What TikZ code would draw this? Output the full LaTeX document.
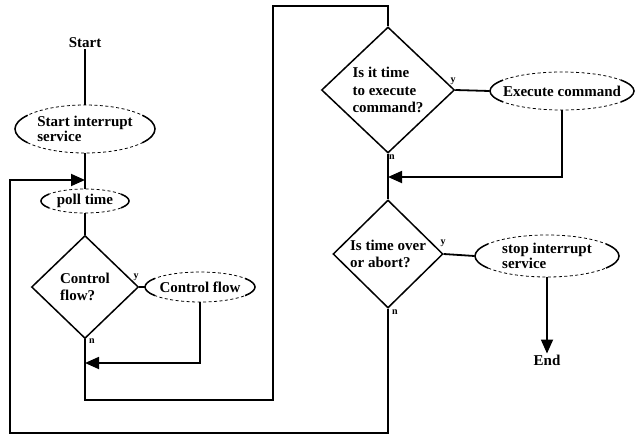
\documentclass[tikz,border=0pt]{standalone}
\usepackage{fontspec}
\setmainfont{Liberation Serif}
\usetikzlibrary{shapes.geometric,arrows.meta}
\begin{document}
\begin{tikzpicture}[x=1pt,y=-1pt,
  txt/.style={font=\fontsize{15}{16}\selectfont\bfseries, inner sep=1pt},
  dec/.style={diamond, draw, line width=1.5pt, inner sep=-8pt, align=left,
    font=\fontsize{15}{17.5}\selectfont\bfseries},
  term/.style={ellipse, draw, dashed, dash pattern=on 3pt off 2.5pt, line width=0.8pt,
    inner xsep=-16pt, inner ysep=-6pt, align=left,
    font=\fontsize{15}{15}\selectfont\bfseries},
  side/.style={line width=1.5pt},
  flow/.style={line width=1.8pt},
  arr/.style={-{Triangle[length=14pt,width=12pt]}},
  yn/.style={font=\fontsize{10}{10}\selectfont\bfseries, inner sep=0pt}]
\newcommand\parens[3]{%
  \draw[side] (#1.center) ++(145:#2pt and #3pt) arc[start angle=145,end angle=215,x radius=#2pt,y radius=#3pt];
  \draw[side] (#1.center) ++(-35:#2pt and #3pt) arc[start angle=-35,end angle=35,x radius=#2pt,y radius=#3pt];}
\useasboundingbox (0,0) rectangle (635,436);

% nodes
\node[txt] (start) at (85,43) {Start};
\node[term, minimum width=140pt, minimum height=48pt] (si) at (85,129) {Start interrupt\\service};
\node[term, minimum width=88pt, minimum height=24pt] (poll) at (85,201) {poll time};
\node[dec, minimum width=107pt, minimum height=103pt] (d1) at (85,287) {Control\\flow?};
\node[term, minimum width=110pt, minimum height=30pt] (cf) at (200,287) {Control flow};
\node[dec, minimum width=133pt, minimum height=126pt] (d2) at (388,90) {Is it time\\to execute\\command?};
\node[term, minimum width=144pt, minimum height=38pt] (ex) at (562,91) {Execute command};
\node[dec, minimum width=110pt, minimum height=108pt] (d3) at (388,254) {Is time over\\or abort?};
\node[term, minimum width=144pt, minimum height=42pt] (stop) at (547,256) {stop interrupt\\service};
\node[txt] (end) at (547,360) {End};

\parens{si}{70}{24}
\parens{poll}{44}{12}
\parens{cf}{55}{15}
\parens{ex}{72}{19}
\parens{stop}{72}{21}

% y / n labels
\node[yn] (y1) at (136,277) {y};
\node[yn] (n1) at (92,341) {n};
\node[yn] (y2) at (453,81) {y};
\node[yn] (n2) at (392,157) {n};
\node[yn] (y3) at (443,243) {y};
\node[yn] (n3) at (395,312) {n};

% junction coordinates
\coordinate (j1) at (85,180);
\coordinate (lt) at (10,180);
\coordinate (lb) at (10,433);
\coordinate (j2) at (85,363);
\coordinate (m1) at (85,400);
\coordinate (m2) at (273,400);
\coordinate (m3) at (273,6);
\coordinate (m4) at (388,6);
\coordinate (j3) at (388,177);

% connectors
\draw[flow] (start) -- (si);
\draw[flow] (si) -- (poll);
\draw[flow] (poll) -- (d1);
\draw[flow] (d1.east) -- (cf.west);
\draw[flow,arr] (cf.south) |- (j2);
\draw[flow] (d1.south) -- (m1) -- (m2) -- (m3) -- (m4) -- (d2.north);
\draw[flow] (d2.east) -- (ex.west);
\draw[flow,arr] (ex.south) |- (j3);
\draw[flow] (d2.south) -- (d3.north);
\draw[flow] (d3.east) -- (stop.west);
\draw[flow,arr] (stop.south) -- (end.north);
\draw[flow,arr] (d3.south) |- (lb) -- (lt) -- (j1);
\end{tikzpicture}
\end{document}
